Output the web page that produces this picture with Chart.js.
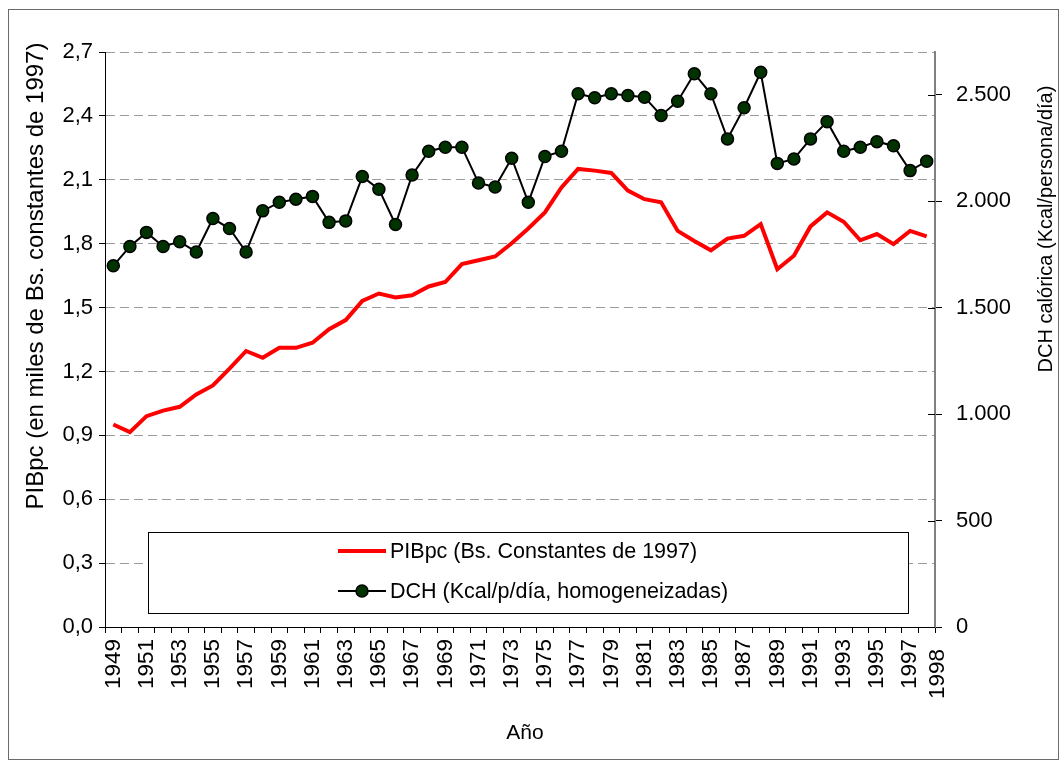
<!DOCTYPE html>
<html lang="es">
<head>
<meta charset="utf-8">
<title>PIBpc y DCH calórica</title>
<script src="https://cdn.jsdelivr.net/npm/chart.js@4/dist/chart.umd.min.js"></script>
<style>
  html, body {
    margin: 0;
    padding: 0;
    background: #ffffff;
  }

  #wrap {
    position: relative;
    width: 1063px;
    height: 762px;
  }
</style>
</head>
<body>

<div id="wrap">
  <canvas id="pibChart"></canvas>
</div>

<script>

const years = [
  "1949", "1950", "1951", "1952", "1953", "1954", "1955", "1956", "1957", "1958",
  "1959", "1960", "1961", "1962", "1963", "1964", "1965", "1966", "1967", "1968",
  "1969", "1970", "1971", "1972", "1973", "1974", "1975", "1976", "1977", "1978",
  "1979", "1980", "1981", "1982", "1983", "1984", "1985", "1986", "1987", "1988",
  "1989", "1990", "1991", "1992", "1993", "1994", "1995", "1996", "1997", "1998"
];

// years that carry a label under their own tick
const labeledYears = [
  "1949", "1951", "1953", "1955", "1957", "1959", "1961", "1963", "1965",
  "1967", "1969", "1971", "1973", "1975", "1977", "1979", "1981", "1983",
  "1985", "1987", "1989", "1991", "1993", "1995", "1997"
];

// the last year label sits out at the corner of the axes, as in the source
const lastYearLabel = "1998";

// miles de Bs. constantes de 1997
const pibValues = [
  0.951, 0.915, 0.990, 1.016, 1.034, 1.092, 1.134, 1.213, 1.296, 1.264,
  1.311, 1.311, 1.335, 1.398, 1.441, 1.531, 1.566, 1.547, 1.558, 1.599,
  1.620, 1.704, 1.722, 1.740, 1.802, 1.871, 1.947, 2.064, 2.151, 2.143,
  2.132, 2.049, 2.009, 1.994, 1.860, 1.813, 1.769, 1.824, 1.837, 1.892,
  1.680, 1.743, 1.881, 1.947, 1.903, 1.816, 1.845, 1.798, 1.860, 1.834
];

// Kcal/persona/día
const dchValues = [
  1696, 1787, 1853, 1787, 1809, 1761, 1918, 1871, 1761, 1954,
  1994, 2009, 2022, 1900, 1907, 2115, 2056, 1890, 2122, 2234,
  2253, 2253, 2085, 2066, 2201, 1994, 2209, 2234, 2504, 2485,
  2504, 2496, 2488, 2402, 2469, 2598, 2504, 2292, 2438, 2605,
  2177, 2198, 2292, 2373, 2234, 2253, 2279, 2260, 2143, 2187
];

// right axis ticks (the axis runs to 2700 so it lines up with 2,7 on the left)
const dchTicks = [0, 500, 1000, 1500, 2000, 2500];

const seriesNames = [
  "PIBpc (Bs. Constantes de 1997)",
  "DCH (Kcal/p/día, homogeneizadas)"
];

const leftTitle = "PIBpc (en miles de Bs. constantes de 1997)";
const rightTitle = "DCH calórica (Kcal/persona/día)";
const xTitle = "Año";

const fontFamily = "'Liberation Sans', Arial, sans-serif";

// titles, outer frame and the boxed legend inside the plot
const chartExtras = {

  id: "chartExtras",

  afterDraw(chart) {

    const ctx = chart.ctx;
    const area = chart.chartArea;
    const right = chart.scales.y1;

    ctx.save();

    // inner half of the right axis tick marks
    ctx.strokeStyle = "#000000";
    ctx.lineWidth = 1;
    right.ticks.forEach(tick => {
      const y = Math.round(right.getPixelForValue(tick.value)) + 0.5;
      ctx.beginPath();
      ctx.moveTo(area.right - 7, y);
      ctx.lineTo(area.right, y);
      ctx.stroke();
    });

    // outer frame
    ctx.strokeStyle = "#6b6b6b";
    ctx.strokeRect(8.5, 9.5, 1050, 750);

    ctx.fillStyle = "#000000";

    // last year label at the axis corner
    ctx.font = "22.5px " + fontFamily;
    ctx.textAlign = "right";
    ctx.textBaseline = "middle";
    ctx.save();
    ctx.translate(area.right + 3, area.bottom + 22);
    ctx.rotate(-Math.PI / 2);
    ctx.fillText(lastYearLabel, 0, 0);
    ctx.restore();

    // axis titles
    ctx.textAlign = "center";

    ctx.font = "24px " + fontFamily;
    ctx.save();
    ctx.translate(36, 276);
    ctx.rotate(-Math.PI / 2);
    ctx.fillText(leftTitle, 0, 0);
    ctx.restore();

    ctx.font = "20px " + fontFamily;
    ctx.save();
    ctx.translate(1046, 229);
    ctx.rotate(-Math.PI / 2);
    ctx.fillText(rightTitle, 0, 0);
    ctx.restore();

    ctx.font = "21px " + fontFamily;
    ctx.fillText(xTitle, 525, 733);

    // legend box
    const box = { left: 148, top: 532, right: 908, bottom: 613 };

    ctx.fillStyle = "#ffffff";
    ctx.fillRect(box.left, box.top, box.right - box.left, box.bottom - box.top);
    ctx.strokeStyle = "#000000";
    ctx.lineWidth = 1;
    ctx.strokeRect(box.left + 0.5, box.top + 0.5, box.right - box.left, box.bottom - box.top);

    const rows = [551, 591];
    const sampleLeft = 338;
    const sampleRight = 386;

    chart.data.datasets.forEach((ds, i) => {

      const y = rows[i];

      ctx.strokeStyle = ds.borderColor;
      ctx.lineWidth = ds.borderWidth;
      ctx.beginPath();
      ctx.moveTo(sampleLeft, y);
      ctx.lineTo(sampleRight, y);
      ctx.stroke();

      if (ds.pointRadius > 0) {
        ctx.fillStyle = ds.pointBackgroundColor;
        ctx.strokeStyle = ds.pointBorderColor;
        ctx.lineWidth = ds.pointBorderWidth;
        ctx.beginPath();
        ctx.arc((sampleLeft + sampleRight) / 2, y, ds.pointRadius, 0, Math.PI * 2);
        ctx.fill();
        ctx.stroke();
      }

      ctx.fillStyle = "#000000";
      ctx.textAlign = "left";
      ctx.font = "21.5px " + fontFamily;
      ctx.fillText(ds.label, sampleRight + 4, y + 1);
    });

    ctx.restore();
  }
};

new Chart(document.getElementById("pibChart"), {

  type: "line",

  data: {

    labels: years,

    datasets: [
      {
        label: seriesNames[0],
        data: pibValues,
        yAxisID: "y",
        borderColor: "#ff0000",
        borderWidth: 4,
        pointRadius: 0,
        tension: 0
      },
      {
        label: seriesNames[1],
        data: dchValues,
        yAxisID: "y1",
        borderColor: "#000000",
        borderWidth: 2,
        pointRadius: 6,
        pointBackgroundColor: "#003300",
        pointBorderColor: "#000000",
        pointBorderWidth: 1.5,
        tension: 0
      }
    ]
  },

  options: {

    responsive: true,

    maintainAspectRatio: false,

    animation: false,

    layout: {
      padding: { top: 52, left: 0, right: 0, bottom: 0 }
    },

    plugins: {
      legend: { display: false },
      tooltip: { enabled: false }
    },

    scales: {

      x: {

        offset: true,

        afterFit: scale => { scale.height = 135; },

        border: { color: "#000000", width: 1 },

        grid: {
          offset: true,
          drawOnChartArea: false,
          tickLength: 6,
          tickColor: "#000000"
        },

        ticks: {
          autoSkip: false,
          minRotation: 90,
          maxRotation: 90,
          padding: 6,
          color: "#000000",
          font: { family: fontFamily, size: 22.5 },
          callback: function (value) {
            const label = this.getLabelForValue(value);
            return labeledYears.includes(label) ? label : "";
          }
        }
      },

      y: {

        position: "left",

        min: 0,

        max: 2.7,

        afterFit: scale => { scale.width = 105; },

        border: { color: "#000000", width: 1, dash: [9, 5] },

        grid: {
          color: "#9a9a9a",
          lineWidth: 1,
          tickLength: 6,
          tickColor: "#000000",
          tickBorderDash: []
        },

        ticks: {
          stepSize: 0.3,
          padding: 6,
          color: "#000000",
          font: { family: fontFamily, size: 22 },
          callback: value => value.toFixed(1).replace(".", ",")
        }
      },

      y1: {

        position: "right",

        min: 0,

        max: 2700,

        afterFit: scale => { scale.width = 128; },

        afterBuildTicks: scale => {
          scale.ticks = dchTicks.map(v => ({ value: v }));
        },

        border: { color: "#808080", width: 2 },

        grid: {
          drawOnChartArea: false,
          tickLength: 7,
          tickColor: "#000000"
        },

        ticks: {
          padding: 14,
          color: "#000000",
          font: { family: fontFamily, size: 22 },
          callback: value => value.toLocaleString("de-DE")
        }
      }
    }
  },

  plugins: [chartExtras]
});

</script>
</body>
</html>
